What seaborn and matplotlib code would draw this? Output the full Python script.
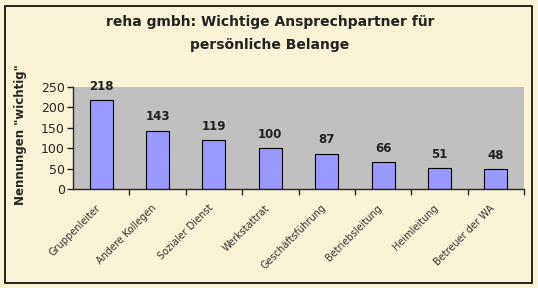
import matplotlib
matplotlib.use("Agg")
import matplotlib.pyplot as plt
import matplotlib.transforms as mtrans
import seaborn as sns
import pandas as pd
from matplotlib.patches import Rectangle

categories = ["Gruppenleiter", "Andere Kollegen", "Sozialer Dienst", "Werkstattrat",
              "Geschäftsführung", "Betriebsleitung", "Heimleitung", "Betreuer der WA"]
values = [218, 143, 119, 100, 87, 66, 51, 48]
yticks = [0, 50, 100, 150, 200, 250]

df = pd.DataFrame({"cat": categories, "val": values})

sns.set_style("white")
plt.rcParams['font.family'] = ['DejaVu Sans']

W, H = 538, 288
fig = plt.figure(figsize=(W/100, H/100), dpi=100)
bg = "#F8F2D6"
fig.patch.set_facecolor(bg)
fig.patches.append(Rectangle((5/W, 5/H), 527/W, 277/H, transform=fig.transFigure,
                             fill=False, edgecolor="black", linewidth=1.2))

ax = fig.add_axes([73/W, 1-189/H, (524-73)/W, (189-87)/H])
ax.set_facecolor("#C0C0C0")
sns.barplot(data=df, x="cat", y="val", ax=ax, color="#9999FF", width=0.41,
            edgecolor="black", linewidth=0.8, saturation=1)
ax.set_xlim(-0.5, len(categories)-0.5)
ax.set_ylim(0, 250)
ax.set_yticks(yticks)
ax.set_yticklabels([str(t) for t in yticks], fontsize=9)
ax.tick_params(axis="y", length=4, width=1, pad=2, direction="out", left=True)
ax.set_xticks(range(len(categories)))
ax.set_xticklabels(categories, rotation=45, ha="right", rotation_mode="anchor",
                   fontsize=7, color="#333333")
ax.tick_params(axis="x", length=0, pad=10)
shift = mtrans.ScaledTranslation(-6/100, 0, fig.dpi_scale_trans)
for lbl in ax.get_xticklabels():
    lbl.set_transform(lbl.get_transform() + shift)
ax.set_xticks([i+0.5 for i in range(len(categories))], minor=True)
ax.tick_params(axis="x", which="minor", length=4, width=1, direction="out", bottom=True)
for s in ["top", "right"]:
    ax.spines[s].set_visible(False)
ax.spines["left"].set_linewidth(1)
ax.spines["bottom"].set_linewidth(1)
ax.set_xlabel("")
ax.set_ylabel('Nennungen "wichtig"', fontsize=8.5, fontweight="bold")
ax.yaxis.set_label_coords((27-73)/451, (189-135)/102)
for i, v in enumerate(values):
    ax.annotate(str(v), (i, v), xytext=(0, 7.5), textcoords="offset points",
                ha="center", va="baseline", fontsize=8.5, fontweight="bold", color="#222222")

fig.text(270/W, 1-22/H, "reha gmbh: Wichtige Ansprechpartner für", ha="center", va="center",
         fontsize=10, fontweight="bold", color="#222222")
fig.text(270/W, 1-45/H, "persönliche Belange", ha="center", va="center",
         fontsize=10, fontweight="bold", color="#222222")

fig.savefig("out.png", dpi=100, facecolor=bg)
